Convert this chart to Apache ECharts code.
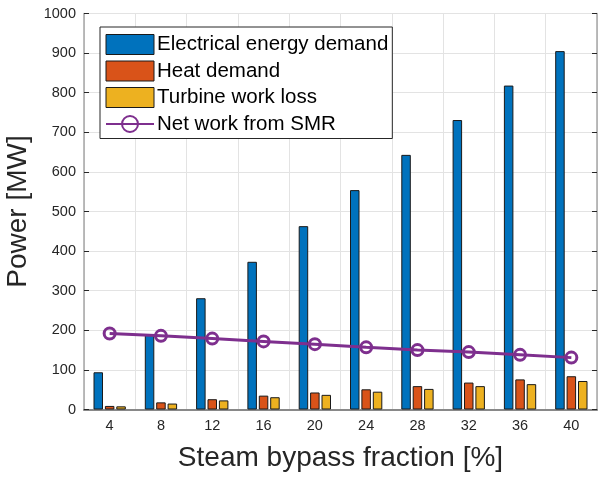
<!DOCTYPE html>
<html>
<head>
<meta charset="utf-8">
<script src="https://cdn.jsdelivr.net/npm/echarts@6/dist/echarts.min.js"></script>
<style>html,body{margin:0;padding:0;background:#fff}#c{width:598px;height:477px}</style>
</head>
<body>
<div id="c"></div>
<script>
const categories = ['4','8','12','16','20','24','28','32','36','40'];
const electrical = [94, 188, 281, 373, 463, 554, 643, 731, 818, 905];
const heat = [9, 18, 26, 35, 43, 51, 59, 68, 76, 84];
const turbineLoss = [8, 15, 23, 31, 37, 45, 52, 59, 64, 72];
const netWork = [192, 186, 179, 172, 165, 157, 150, 145, 138, 131];
const yTicks = {min: 0, max: 1000, interval: 100};

const font = 'Arial, "Liberation Sans", Helvetica, sans-serif';
const txt = '#262626';
const chart = echarts.init(document.getElementById('c'), null, {renderer: 'canvas'});
const barStyle = c => ({color: c, borderColor: '#1a1a1a', borderWidth: 1});
chart.setOption({
  animation: false,
  grid: {left: 84, right: 1, top: 13.5, bottom: 67.5, containLabel: false, outerBoundsMode: 'none'},
  legend: {
    orient: 'vertical', left: 100, top: 27,
    backgroundColor: '#fff', borderColor: txt, borderWidth: 1,
    padding: [7, 4, 4, 5], itemGap: 5.5, itemWidth: 48, itemHeight: 20,
    textStyle: {fontFamily: font, fontSize: 20.5, color: '#000', padding: [0,0,0,-2]},
    data: [
      {name: 'Electrical energy demand', icon: 'rect', itemStyle: {borderWidth: 1}},
      {name: 'Heat demand', icon: 'rect', itemStyle: {borderWidth: 1}},
      {name: 'Turbine work loss', icon: 'rect', itemStyle: {borderWidth: 1}},
      {name: 'Net work from SMR'}
    ]
  },
  xAxis: [{
    type: 'category', data: categories, position: 'bottom',
    name: 'Steam bypass fraction [%]', nameLocation: 'middle', nameGap: 35,
    nameTextStyle: {fontFamily: font, fontSize: 28, color: txt},
    axisLine: {lineStyle: {color: txt, width: 1.5}},
    axisTick: {inside: true, length: 5, alignWithLabel: true, lineStyle: {color: txt}},
    axisLabel: {fontFamily: font, fontSize: 14.5, color: txt, margin: 9},
    splitLine: {show: true, lineStyle: {color: '#e3e3e3', width: 1}}
  }, {
    type: 'category', data: categories, position: 'top',
    axisLine: {lineStyle: {color: '#999', width: 1.5}},
    axisTick: {inside: true, length: 5, alignWithLabel: true, lineStyle: {color: txt}},
    axisLabel: {show: false}, splitLine: {show: false}
  }],
  yAxis: [{
    type: 'value', min: yTicks.min, max: yTicks.max, interval: yTicks.interval, position: 'left',
    name: 'Power [MW]', nameLocation: 'middle', nameGap: 52, nameRotate: 90,
    nameTextStyle: {fontFamily: font, fontSize: 28, color: txt},
    axisLine: {show: true, lineStyle: {color: '#a6a6a6', width: 1.5}},
    axisTick: {show: true, inside: true, length: 5, lineStyle: {color: txt}},
    axisLabel: {fontFamily: font, fontSize: 14.5, color: txt, margin: 8, formatter: v => String(v)},
    splitLine: {show: true, lineStyle: {color: '#e3e3e3', width: 1}}
  }, {
    type: 'value', min: yTicks.min, max: yTicks.max, interval: yTicks.interval, position: 'right',
    axisLine: {show: true, lineStyle: {color: '#a6a6a6', width: 1.5}},
    axisTick: {show: true, inside: true, length: 5, lineStyle: {color: txt}},
    axisLabel: {show: false}, splitLine: {show: false}
  }],
  series: [
    {name: 'Electrical energy demand', type: 'bar', data: electrical, barWidth: 9.5, barGap: '20%', itemStyle: barStyle('#0072BD')},
    {name: 'Heat demand', type: 'bar', data: heat, barWidth: 9.5, barGap: '20%', itemStyle: barStyle('#D95319')},
    {name: 'Turbine work loss', type: 'bar', data: turbineLoss, barWidth: 9.5, barGap: '20%', itemStyle: barStyle('#EDB120')},
    {name: 'Net work from SMR', type: 'line', data: netWork, symbol: 'circle', symbolSize: 11,
     lineStyle: {color: '#7E2F8E', width: 3},
     itemStyle: {color: 'rgba(255,255,255,0)', borderColor: '#7E2F8E', borderWidth: 3}, z: 5}
  ]
});
</script>
</body>
</html>
